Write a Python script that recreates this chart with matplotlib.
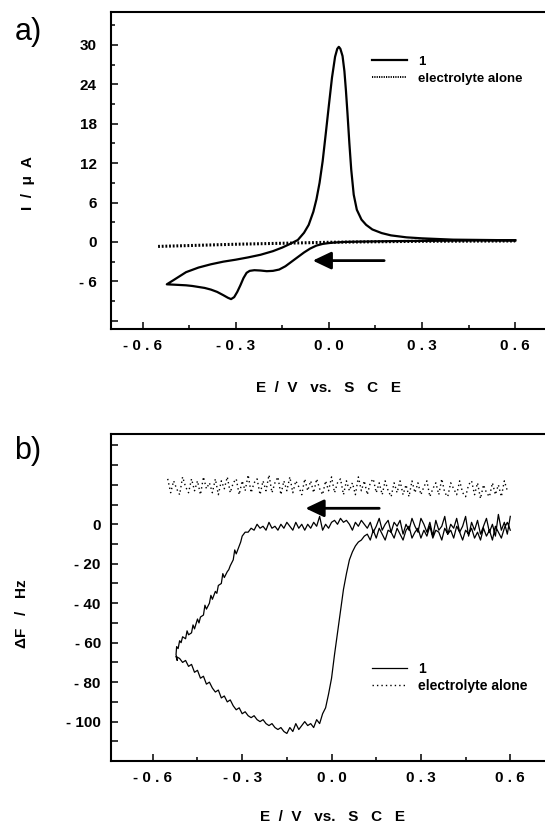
"""
Cyclic voltammogram (a) and EQCM frequency response (b) of film 1
versus electrolyte alone.
"""
import matplotlib
matplotlib.use('Agg')
import matplotlib.pyplot as plt

plt.rcParams['font.family'] = ['Liberation Sans', 'DejaVu Sans']

# ---------------- panel a : current ----------------
a_cath_E = [0.60, 0.40, 0.20, 0.10, 0.05, 0.02, 0.00, -0.02, -0.04, -0.06, -0.08, -0.10,
            -0.12, -0.14, -0.16, -0.18, -0.20, -0.22, -0.24, -0.255, -0.265, -0.275,
            -0.285, -0.295, -0.305, -0.315, -0.325, -0.34, -0.36, -0.38, -0.40, -0.42,
            -0.44, -0.46, -0.48, -0.50, -0.522]
a_cath_I = [0.25, 0.2, 0.12, 0.05, 0.0, -0.08, -0.17, -0.3, -0.55, -1.0, -1.6, -2.3,
            -3.0, -3.7, -4.2, -4.4, -4.45, -4.35, -4.3, -4.4, -4.7, -5.5,
            -6.6, -7.6, -8.4, -8.7, -8.5, -8.1, -7.6, -7.25, -7.0, -6.85,
            -6.7, -6.6, -6.55, -6.5, -6.45]
a_anod_E = [-0.522, -0.50, -0.46, -0.42, -0.38, -0.34, -0.30, -0.26, -0.22, -0.18, -0.15,
            -0.125, -0.10, -0.08, -0.065, -0.05, -0.04, -0.03, -0.02, -0.01, 0.00, 0.01,
            0.02, 0.027, 0.032, 0.037, 0.044, 0.05, 0.055, 0.06, 0.066, 0.072, 0.08, 0.09,
            0.105, 0.12, 0.14, 0.17, 0.20, 0.25, 0.30, 0.40, 0.50, 0.60]
a_anod_I = [-6.45, -5.8, -4.6, -3.9, -3.4, -3.0, -2.7, -2.35, -1.95, -1.4, -0.85,
            -0.3, 0.3, 1.4, 2.6, 4.6, 6.5, 9.0, 12.3, 16.5, 20.8, 25.0,
            28.2, 29.4, 29.7, 29.4, 28.3, 26.0, 23.0, 19.5, 15.0, 11.0, 7.2, 4.9,
            3.4, 2.6, 1.9, 1.35, 1.0, 0.7, 0.55, 0.35, 0.3, 0.25]
a_blank_E = [-0.55, -0.30, 0.00, 0.30, 0.60]
a_blank_I = [-0.68, -0.35, -0.05, 0.10, 0.15]

# ---------------- panel b : frequency ----------------
b_cath_E = [0.60, 0.59, 0.58, 0.57, 0.56, 0.55, 0.54, 0.53, 0.52, 0.51,
            0.50, 0.49, 0.48, 0.47, 0.46, 0.45, 0.44, 0.43, 0.42, 0.41,
            0.40, 0.39, 0.38, 0.37, 0.36, 0.35, 0.34, 0.33, 0.32, 0.31,
            0.30, 0.29, 0.28, 0.27, 0.26, 0.25, 0.24, 0.23, 0.22, 0.21,
            0.20, 0.19, 0.18, 0.17, 0.16, 0.15, 0.14, 0.13, 0.12, 0.11,
            0.10, 0.09, 0.08, 0.07, 0.06, 0.05, 0.04, 0.03, 0.02, 0.01,
            0.00, -0.01, -0.02, -0.03, -0.04, -0.05, -0.06, -0.07, -0.08, -0.09,
            -0.10, -0.11, -0.12, -0.13, -0.14, -0.15, -0.16, -0.17, -0.18, -0.19,
            -0.20, -0.21, -0.22, -0.23, -0.24, -0.25, -0.26, -0.27, -0.28]
b_cath_dF = [4, -5, 1, -3, 5, -6, 0, -4, 3, -1,
             -5, 2, -3, 1, -6, 4, -1, -4, 3, -2,
             0, -5, 4, -1, -3, 2, -6, 1, -4, 0,
             3, -4, -1, 3, -3, 0, -5, 2, -1, 1,
             -4, 2, 0, -3, 3, -1, -4, 1, -2, 0,
             2, -1, 1, -3, 0, 2, 1, 3, 0, 2,
             1, -2, 0, -3, 4, -1, 1, -2, 0, -3,
             0, -2, 1, -3, -1, 1, -2, 0, -3, -1,
             -2, 1, -3, -1, -2, 0, -3, -2, -4]
b_left_E = [-0.29, -0.30, -0.305, -0.31, -0.32, -0.325, -0.33, -0.34, -0.345, -0.35,
            -0.36, -0.365, -0.37, -0.38, -0.385, -0.39, -0.40, -0.405, -0.41, -0.42,
            -0.425, -0.43, -0.44, -0.445, -0.45, -0.46, -0.465, -0.47, -0.48, -0.485,
            -0.49, -0.50, -0.505, -0.51, -0.515, -0.52, -0.522, -0.518, -0.522]
b_left_dF = [-4, -6, -9, -11, -15, -13, -18, -21, -23, -24,
             -27, -25, -30, -31, -35, -34, -38, -36, -40, -43,
             -41, -46, -47, -50, -48, -53, -51, -55, -56, -54,
             -58, -57, -60, -59, -63, -62, -66, -69, -67]
b_anod_E = [-0.51, -0.50, -0.49, -0.48, -0.47, -0.46, -0.45, -0.44, -0.43, -0.42,
            -0.41, -0.40, -0.39, -0.38, -0.37, -0.36, -0.35, -0.34, -0.33, -0.32,
            -0.31, -0.30, -0.29, -0.28, -0.27, -0.26, -0.25, -0.24, -0.23, -0.22,
            -0.21, -0.20, -0.19, -0.18, -0.17, -0.16, -0.15, -0.14, -0.13, -0.12,
            -0.11, -0.10, -0.09, -0.08, -0.07, -0.06, -0.05, -0.04, -0.03, -0.02,
            -0.01, 0.00, 0.01, 0.02, 0.03, 0.04, 0.05, 0.06, 0.07, 0.08,
            0.09, 0.10, 0.11, 0.12, 0.13, 0.14, 0.15, 0.16, 0.17, 0.18,
            0.19, 0.20, 0.21, 0.22, 0.23, 0.24, 0.25, 0.26, 0.27, 0.28,
            0.29, 0.30, 0.31, 0.32, 0.33, 0.34, 0.35, 0.36, 0.37, 0.38,
            0.39, 0.40, 0.41, 0.42, 0.43, 0.44, 0.45, 0.46, 0.47, 0.48,
            0.49, 0.50, 0.51, 0.52, 0.53, 0.54, 0.55, 0.56, 0.57, 0.58,
            0.59, 0.60]
b_anod_dF = [-68, -70, -69, -72, -71, -75, -74, -78, -77, -81,
             -80, -83, -85, -84, -88, -87, -90, -89, -92, -94,
             -93, -96, -95, -97, -98, -97, -99, -100, -99, -101,
             -102, -101, -103, -104, -103, -105, -106, -103, -105, -101,
             -104, -102, -100, -102, -101, -103, -99, -101, -96, -93,
             -86, -78, -66, -55, -44, -33, -25, -18, -14, -11,
             -9, -8, -6, -5, -8, -3, -7, -2, -5, -8,
             -3, -4, -7, -2, -5, -8, -3, -1, -7, -4,
             -2, -7, -3, -6, -1, -7, -3, -4, -8, -2,
             -5, -3, -7, -1, -4, -8, -3, -5, -2, -7,
             -4, -8, -2, -6, -3, -8, -1, -4, -7, -2,
             1, -3]

b_blank_E = [-0.55, -0.54, -0.53, -0.52, -0.51, -0.50, -0.49, -0.48, -0.47, -0.46,
             -0.45, -0.44, -0.43, -0.42, -0.41, -0.40, -0.39, -0.38, -0.37, -0.36,
             -0.35, -0.34, -0.33, -0.32, -0.31, -0.30, -0.29, -0.28, -0.27, -0.26,
             -0.25, -0.24, -0.23, -0.22, -0.21, -0.20, -0.19, -0.18, -0.17, -0.16,
             -0.15, -0.14, -0.13, -0.12, -0.11, -0.10, -0.09, -0.08, -0.07, -0.06,
             -0.05, -0.04, -0.03, -0.02, -0.01, 0.00, 0.01, 0.02, 0.03, 0.04,
             0.05, 0.06, 0.07, 0.08, 0.09, 0.10, 0.11, 0.12, 0.13, 0.14,
             0.15, 0.16, 0.17, 0.18, 0.19, 0.20, 0.21, 0.22, 0.23, 0.24,
             0.25, 0.26, 0.27, 0.28, 0.29, 0.30, 0.31, 0.32, 0.33, 0.34,
             0.35, 0.36, 0.37, 0.38, 0.39, 0.40, 0.41, 0.42, 0.43, 0.44,
             0.45, 0.46, 0.47, 0.48, 0.49, 0.50, 0.51, 0.52, 0.53, 0.54,
             0.55, 0.56, 0.57, 0.58, 0.59]
b_blank_dF = [23, 16, 22, 18, 15, 24, 19, 16, 23, 17,
              22, 15, 24, 18, 21, 16, 23, 15, 22, 18,
              24, 16, 21, 23, 15, 22, 17, 25, 16, 21,
              23, 15, 22, 17, 25, 16, 21, 24, 15, 22,
              17, 24, 16, 22, 19, 15, 23, 17, 22, 16,
              23, 18, 15, 22, 17, 24, 16, 21, 23, 15,
              22, 17, 21, 15, 24, 17, 22, 15, 21, 23,
              16, 21, 15, 22, 17, 14, 21, 16, 22, 15,
              20, 14, 22, 16, 21, 15, 19, 22, 14, 18,
              21, 15, 23, 16, 14, 21, 18, 15, 22, 16,
              14, 20, 22, 15, 21, 13, 20, 16, 14, 21,
              15, 20, 14, 22, 17]

x_ticks = [-0.6, -0.3, 0.0, 0.3, 0.6]
x_ticklabels = ['- 0 . 6', '- 0 . 3', '0 . 0', '0 . 3', '0 . 6']
a_yticks = [-12, -6, 0, 6, 12, 18, 24, 30]
a_yticklabels = ['', '- 6', '0', '6', '12', '18', '24', '30']
b_yticks = [-100, -80, -60, -40, -20, 0, 20, 40]
b_yticklabels = ['- 100', '- 80', '- 60', '- 40', '- 20', '0', '', '']

W, H = 545, 827
fig = plt.figure(figsize=(W / 100, H / 100), dpi=100)
ax_a = fig.add_axes([111.2 / W, 1 - 329 / H, 1 - 111.2 / W, 317 / H])
ax_b = fig.add_axes([110.5 / W, 1 - 760.7 / H, 1 - 110.5 / W, 327.2 / H])


def style_axes(ax, ypad):
    ax.spines['right'].set_visible(False)
    for s in ('left', 'top', 'bottom'):
        ax.spines[s].set_linewidth(1.5)
    ax.tick_params(which='both', direction='in', width=1.1, right=False, top=False)
    ax.tick_params(which='major', length=5)
    ax.tick_params(which='minor', length=3)
    ax.tick_params(axis='x', which='major', pad=7.5, labelsize=11)
    ax.tick_params(axis='y', which='major', pad=ypad, labelsize=11)
    for lbl in ax.get_xticklabels() + ax.get_yticklabels():
        lbl.set_fontweight('bold')
    ax.set_xticks([-0.45, -0.15, 0.15, 0.45], minor=True)


# ---- panel a ----
line1, = ax_a.plot(a_cath_E + a_anod_E, a_cath_I + a_anod_I, color='black', lw=1.6,
                   label='1')
line2, = ax_a.plot(a_blank_E, a_blank_I, color='black', lw=2.2,
                   linestyle=(0, (0.6, 0.6)), label='electrolyte alone')
ax_a.set_xlim(-0.701, 0.696)
ax_a.set_ylim(-13.25, 35.0)
ax_a.set_xticks(x_ticks)
ax_a.set_xticklabels(x_ticklabels)
ax_a.set_yticks(a_yticks)
ax_a.set_yticklabels(a_yticklabels)
ax_a.set_yticks([-9, -3, 3, 9, 15, 21, 27, 33], minor=True)
style_axes(ax_a, 10.5)
ax_a.annotate('', xy=(-0.052, -2.84), xytext=(0.178, -2.84),
              arrowprops=dict(arrowstyle='-|>,head_length=0.8,head_width=0.38',
                              lw=2, color='black', mutation_scale=14,
                              shrinkA=0, shrinkB=0))
leg_a = ax_a.legend(handles=[line1, line2], loc='upper left',
                    bbox_to_anchor=(0.6005, 0.862),
                    frameon=False, borderpad=0, borderaxespad=0, handlelength=2.65,
                    handletextpad=0.86, labelspacing=0.33,
                    prop={'weight': 'bold', 'size': 9.5})
leg_a.get_lines()[1].set_linewidth(1.4)

# ---- panel b ----
ax_b.plot(b_cath_E + b_left_E + b_anod_E, b_cath_dF + b_left_dF + b_anod_dF,
          color='black', lw=0.9, label='1')
ax_b.plot(b_blank_E, b_blank_dF, color='black', lw=1.0,
          linestyle=(0, (1.0, 2.2)), label='electrolyte alone')
ax_b.set_xlim(-0.742, 0.7165)
ax_b.set_ylim(-119.8, 46.0)
ax_b.set_xticks(x_ticks)
ax_b.set_xticklabels(x_ticklabels)
ax_b.set_yticks(b_yticks)
ax_b.set_yticklabels(b_yticklabels)
ax_b.set_yticks([-110, -90, -70, -50, -30, -10, 10, 30], minor=True)
style_axes(ax_b, 7)
ax_b.tick_params(axis='y', which='minor', length=5)
ax_b.annotate('', xy=(-0.0875, 8.1), xytext=(0.16, 8.1),
              arrowprops=dict(arrowstyle='-|>,head_length=0.8,head_width=0.38',
                              lw=2, color='black', mutation_scale=14,
                              shrinkA=0, shrinkB=0))
ax_b.legend(loc='upper left', bbox_to_anchor=(0.601, 0.3017),
            frameon=False, borderpad=0, borderaxespad=0, handlelength=2.52,
            handletextpad=0.81, labelspacing=0.24,
            prop={'weight': 'bold', 'size': 10})

# ---- labels ----
fig.text(28.5 / W, 1 - 32 / H, 'a)', fontsize=22, ha='center', va='center')
fig.text(28 / W, 1 - 451 / H, 'b)', fontsize=22, ha='center', va='center')
fig.text(28 / W, 1 - 183.5 / H, 'I  /  μ  A', fontsize=11, fontweight='bold',
         rotation=90, ha='center', va='center')
fig.text(21.7 / W, 1 - 614 / H, 'ΔF   /   Hz', fontsize=11, fontweight='bold',
         rotation=90, ha='center', va='center')
fig.text(328.5 / W, 1 - 388 / H, 'E  /  V   vs.   S   C   E', fontsize=11,
         fontweight='bold', ha='center', va='center')
fig.text(332 / W, 1 - 817 / H, 'E  /  V   vs.   S   C   E', fontsize=11,
         fontweight='bold', ha='center', va='center')

fig.savefig('out.png', dpi=100)
